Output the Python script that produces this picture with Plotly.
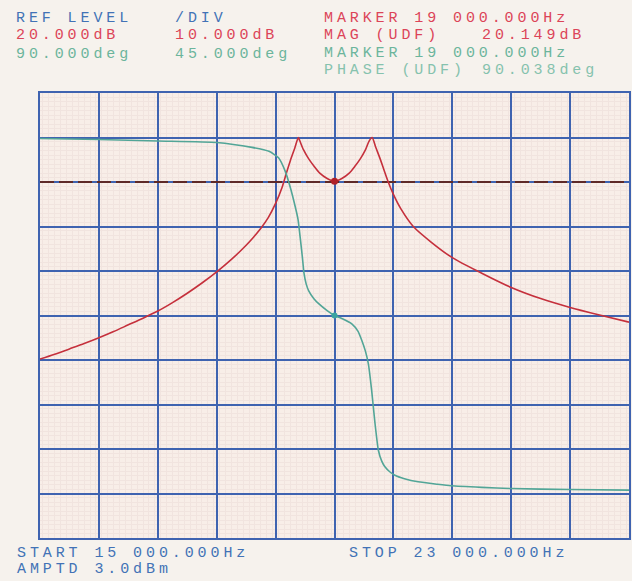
import plotly.graph_objects as go

# ---------------- data ----------------
start_hz = 15000
stop_hz = 23000
ref_level_db = 20.0
db_per_div = 10.0
ref_phase_deg = 90.0
deg_per_div = 45.0
marker_hz = 19000
marker_mag_db = 20.149
marker_phase_deg = 90.038

mag_freq = [15000, 15200, 15400, 15600, 15800, 16000, 16200, 16400, 16600, 16800,
            17000, 17200, 17400, 17600, 17800, 17900, 18000, 18100, 18200, 18290,
            18350, 18400, 18460, 18510, 18530, 18580, 18650, 18720, 18800, 18900,
            19000, 19100, 19200, 19280, 19350, 19420, 19470, 19510, 19560, 19620,
            19670, 19730, 19800, 19900, 20070, 20320, 20600, 21000, 21400, 21800,
            22200, 22600, 23000]
mag_db = [-19.8, -18.7, -17.5, -16.3, -15.0, -13.6, -12.1, -10.6, -9.0, -7.1,
          -5.0, -2.7, -0.2, 2.6, 5.8, 7.6, 9.6, 12.0, 15.2, 18.9,
          22.2, 24.8, 27.6, 30.0, 29.2, 27.2, 25.2, 23.6, 22.0, 20.8,
          20.15, 20.8, 22.0, 23.6, 25.2, 27.2, 29.2, 30.0, 27.8, 25.2,
          22.8, 20.0, 17.2, 14.0, 10.0, 6.4, 3.0, -0.5, -3.7, -6.2,
          -8.2, -9.9, -11.5]

ph_freq = [15000, 15800, 16600, 17400, 17880, 18110, 18240, 18330, 18400, 18470,
           18505, 18540, 18565, 18585, 18615, 18650, 18720, 18785, 18900, 19000,
           19100, 19235, 19320, 19370, 19420, 19460, 19505, 19550, 19595, 19640,
           19685, 19750, 19820, 19950, 20135, 20400, 20585, 21000, 21400, 22200,
           23000]
ph_deg = [269, 268, 266.5, 265, 260, 256, 249.5, 236, 219.5, 199,
          187, 165, 148, 133, 122, 115, 107, 102, 95, 90.04,
          87, 81.6, 74, 65, 54, 41, 14, -19, -46, -57,
          -63, -68, -71.5, -75, -78.2, -80.7, -82.2, -83.8, -85, -86,
          -86.6]

header_left = [("REF LEVEL", "/DIV", "blue"),
               ("20.000dB", "10.000dB", "red"),
               ("90.000deg", "45.000deg", "green")]
header_right = [("MARKER 19 000.000Hz", None, "red"),
                ("MAG (UDF)", "20.149dB", "red"),
                ("MARKER 19 000.000Hz", None, "green"),
                ("PHASE (UDF)", "90.038deg", "green2")]
footer = ["START 15 000.000Hz", "STOP 23 000.000Hz", "AMPTD 3.0dBm"]

# ---------------- style ----------------
W_FIG, H_FIG = 632, 581
L, R, T, B = 40, 1, 93, 43
PW = W_FIG - L - R
PH = H_FIG - T - B
GRID = "#3f63b0"
MINOR = "#f1e4df"
PAPER = "#f6f2ed"
TXT = {"blue": "#4272b6", "red": "#dc4458", "green": "#6cb59c", "green2": "#86c2ae"}
FONT = "Liberation Mono"
FS = 15
LS = 3.9

mag_lo = ref_level_db - 8 * db_per_div
mag_hi = ref_level_db + 2 * db_per_div
ph_lo = ref_phase_deg - 5 * deg_per_div
ph_hi = ref_phase_deg + 5 * deg_per_div

fig = go.Figure()

fig.add_trace(go.Scatter(x=[start_hz, stop_hz], y=[ref_level_db, ref_level_db],
                         mode="lines", line=dict(color="#5e2a28", width=2, dash="14px,5px"),
                         hoverinfo="skip", showlegend=False))
fig.add_trace(go.Scatter(x=ph_freq, y=ph_deg, yaxis="y2", mode="lines",
                         line=dict(color="#52a597", width=1.6, shape="spline", smoothing=0.5),
                         showlegend=False))
fig.add_trace(go.Scatter(x=mag_freq, y=mag_db, mode="lines",
                         line=dict(color="#c5303c", width=1.6, shape="spline", smoothing=0.8),
                         showlegend=False))
fig.add_trace(go.Scatter(x=[marker_hz], y=[marker_mag_db], mode="markers",
                         marker=dict(color="#b02028", size=7), showlegend=False))
fig.add_trace(go.Scatter(x=[marker_hz], y=[marker_phase_deg], yaxis="y2", mode="markers",
                         marker=dict(color="#3aa3a0", size=6), showlegend=False))

fig.update_layout(
    width=W_FIG, height=H_FIG,
    margin=dict(l=L, r=R, t=T, b=B, pad=0),
    paper_bgcolor=PAPER,
    plot_bgcolor="#f8eee8",
    showlegend=False,
    xaxis=dict(range=[start_hz, stop_hz], dtick=800, tick0=start_hz,
               showgrid=True, gridcolor=GRID, gridwidth=1.5,
               minor=dict(dtick=80, showgrid=True, gridcolor=MINOR, gridwidth=0.6),
               showticklabels=False, ticks="", zeroline=False,
               showline=True, linecolor=GRID, linewidth=1.6, mirror=True),
    yaxis=dict(range=[mag_lo, mag_hi], dtick=db_per_div, tick0=mag_lo,
               showgrid=True, gridcolor=GRID, gridwidth=1.5,
               minor=dict(dtick=1, showgrid=True, gridcolor=MINOR, gridwidth=0.6),
               showticklabels=False, ticks="", zeroline=False,
               showline=True, linecolor=GRID, linewidth=1.6, mirror=True),
    yaxis2=dict(range=[ph_lo, ph_hi], overlaying="y", side="right",
                showgrid=False, showticklabels=False, ticks="", zeroline=False),
)


def px2paper(px, py):
    return (px - L) / PW, (H_FIG - B - py) / PH


def label(text, px, py, color):
    x, y = px2paper(px, py)
    fig.add_annotation(x=x, y=y, xref="paper", yref="paper", showarrow=False,
                       xanchor="left", yanchor="middle", borderpad=0,
                       text=f'<span style="letter-spacing:{LS}px">{text}</span>',
                       font=dict(family=FONT, size=FS, color=TXT[color]))


left_rows_y = [18, 36, 54]
for (a, b, c), yy in zip(header_left, left_rows_y):
    label(a, 15, yy, c)
    label(b, 174, yy, c)

right_rows_y = [18, 36, 53, 71]
second_x = [None, 482, None, 482]
for (a, b, c), yy, sx in zip(header_right, right_rows_y, second_x):
    label(a, 324, yy, c)
    if b:
        label(b, sx, yy, c)

label(footer[0], 16, 553, "blue")
label(footer[1], 349, 553, "blue")
label(footer[2], 16, 569, "blue")

fig.write_html("out.html",
               config={"displayModeBar": False},
               post_script=f"document.body.style.margin='0px';"
                           f"document.body.style.background='{PAPER}';")
